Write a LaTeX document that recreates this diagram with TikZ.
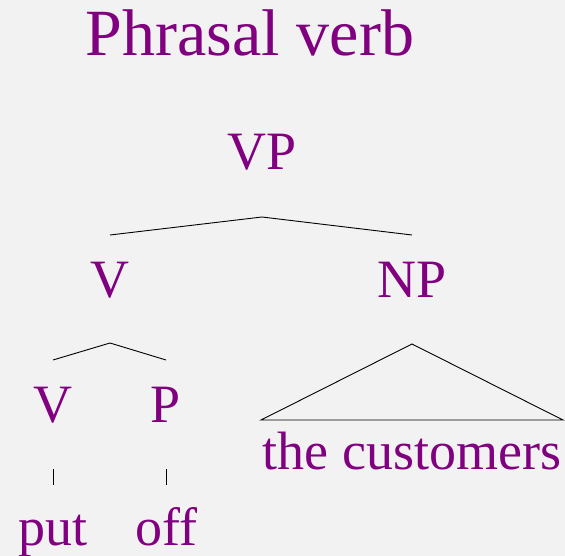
\documentclass[tikz,border=0pt]{standalone}
\usepackage{fontspec}
\setmainfont{Liberation Serif}
\definecolor{txt}{HTML}{800080}
\definecolor{bg}{HTML}{F2F2F2}
\begin{document}
\begin{tikzpicture}[x=1pt,y=1pt,
  lab/.style={text=txt,font=\fontsize{54}{60}\selectfont,anchor=base,inner sep=0pt},
  ttl/.style={text=txt,font=\fontsize{66}{72}\selectfont,anchor=base,inner sep=0pt},
  edge/.style={draw=black,line width=0.9pt}]
\fill[bg] (0,0) rectangle (565,-556);
\useasboundingbox (0,0) rectangle (565,-556);
\node[ttl] (title) at (250,-56) {Phrasal verb};
\node[lab] (vp) at (262,-170) {VP};
\node[lab] (v) at (110,-297) {V};
\node[lab] (np) at (412,-297) {NP};
\node[lab] (v2) at (53,-422) {V};
\node[lab] (p) at (166,-422) {P};
\node[lab] (cust) at (412,-469) {the customers};
\node[lab] (put) at (53,-545) {put};
\node[lab] (off) at (166,-545) {off};
% tree coordinates
\coordinate (vpb) at (262,-217);
\coordinate (vt) at (110,-235);
\coordinate (npt) at (412,-235);
\coordinate (vb) at (110,-343);
\coordinate (v2t) at (53,-360);
\coordinate (pt) at (166,-360);
\coordinate (v2b) at (53,-469);
\coordinate (putt) at (53,-485);
\coordinate (pb) at (166,-469);
\coordinate (offt) at (166,-485);
\coordinate (npb) at (412,-344);
\coordinate (tl) at (261,-420);
\coordinate (tr) at (563,-420);
\draw[edge] (vt) -- (vpb) -- (npt);
\draw[edge] (v2t) -- (vb) -- (pt);
\draw[edge] (v2b) -- (putt);
\draw[edge] (pb) -- (offt);
\draw[edge] (tl) -- (npb) -- (tr) -- cycle;
\end{tikzpicture}
\end{document}
